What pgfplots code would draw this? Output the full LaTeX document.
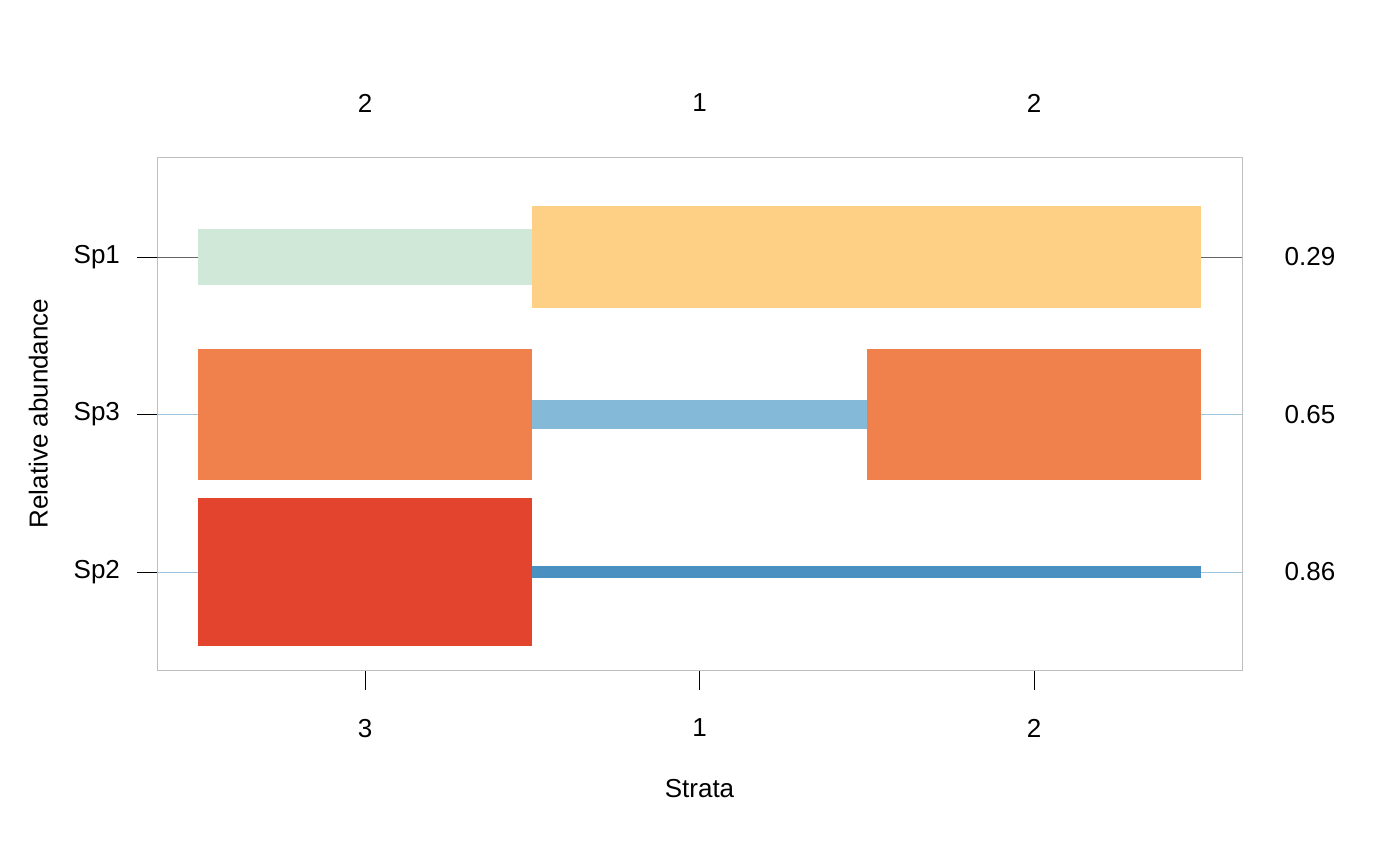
\documentclass[border=0pt]{standalone}
\usepackage{pgfplots}
\pgfplotsset{compat=1.18}
\usepackage{fontspec}
\setmainfont{Liberation Sans}
\definecolor{lg}{HTML}{CFE8D8}
\definecolor{yl}{HTML}{FED086}
\definecolor{or}{HTML}{F0814D}
\definecolor{lb}{HTML}{84BAD8}
\definecolor{rd}{HTML}{E3442E}
\definecolor{db}{HTML}{4A90C0}
\definecolor{ln}{HTML}{9EC4E0}
\begin{document}
\fontsize{13}{15}\selectfont
\begin{tikzpicture}
\path[use as bounding box] (-78.5pt,-98pt) rectangle (621.5pt,335pt);
\begin{axis}[at={(0,0)},anchor=south west,scale only axis,width=542.5pt,height=256.5pt,
 xmin=0.378,xmax=3.622,ymin=0.378,ymax=3.635,
 axis line style={draw=gray!50},
 xtick={1,2,3},xticklabels={3,1,2},ytick={1,2,3},yticklabels={Sp2,Sp3,Sp1},
 tick align=outside,major tick length=10pt,tick style={black,thin},
 xtick pos=bottom,ytick pos=left,
 xticklabel style={yshift=-10pt},yticklabel style={xshift=-4pt},
 xlabel={Strata},ylabel={Relative abundance},
 xlabel style={yshift=-12pt},ylabel style={yshift=4pt},
 ticklabel style={font=\fontsize{13}{15}\selectfont},label style={font=\fontsize{13}{15}\selectfont},
 clip=false]
\addplot[gray!80!black,thin] coordinates {(0.378,3) (3.622,3)};
\addplot[ln,thin] coordinates {(0.378,2) (3.622,2)};
\addplot[ln,thin] coordinates {(0.378,1) (3.622,1)};
\addplot[fill=lg,draw=none] coordinates {(0.5,2.82) (1.5,2.82) (1.5,3.18) (0.5,3.18)} --cycle;
\addplot[fill=yl,draw=none] coordinates {(1.5,2.676) (3.5,2.676) (3.5,3.324) (1.5,3.324)} --cycle;
\addplot[fill=or,draw=none] coordinates {(0.5,1.584) (1.5,1.584) (1.5,2.416) (0.5,2.416)} --cycle;
\addplot[fill=lb,draw=none] coordinates {(1.5,1.908) (2.5,1.908) (2.5,2.092) (1.5,2.092)} --cycle;
\addplot[fill=or,draw=none] coordinates {(2.5,1.584) (3.5,1.584) (3.5,2.416) (2.5,2.416)} --cycle;
\addplot[fill=rd,draw=none] coordinates {(0.5,0.533) (1.5,0.533) (1.5,1.467) (0.5,1.467)} --cycle;
\addplot[fill=db,draw=none] coordinates {(1.5,0.962) (3.5,0.962) (3.5,1.038) (1.5,1.038)} --cycle;
\node at (axis cs:1,3.635) [yshift=27pt] {2};
\node at (axis cs:2,3.635) [yshift=27pt] {1};
\node at (axis cs:3,3.635) [yshift=27pt] {2};
\node at (axis cs:3.622,3) [xshift=34pt] {0.29};
\node at (axis cs:3.622,2) [xshift=34pt] {0.65};
\node at (axis cs:3.622,1) [xshift=34pt] {0.86};
\end{axis}
\end{tikzpicture}
\end{document}
